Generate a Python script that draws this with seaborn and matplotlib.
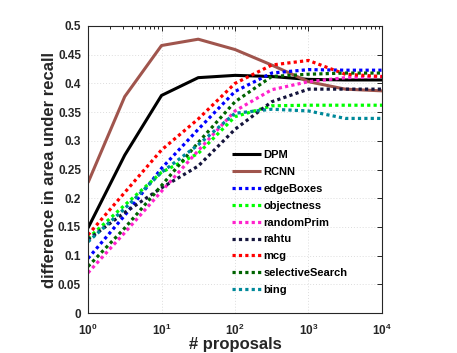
import numpy as np
import pandas as pd
import matplotlib
matplotlib.use("Agg")
import matplotlib.pyplot as plt
import seaborn as sns

# ---- data ----
proposals = [1, 3.16, 10, 31.6, 100, 316, 1000, 3162, 10000]
dpm = [0.148, 0.275, 0.379, 0.410, 0.414, 0.412, 0.407, 0.406, 0.406]
rcnn = [0.227, 0.377, 0.466, 0.477, 0.459, 0.432, 0.403, 0.390, 0.387]
edgeboxes = [0.095, 0.170, 0.252, 0.320, 0.386, 0.418, 0.424, 0.423, 0.423]
objectness = [0.130, 0.188, 0.245, 0.278, 0.342, 0.361, 0.362, 0.362, 0.362]
randomprim = [0.070, 0.140, 0.212, 0.283, 0.352, 0.389, 0.403, 0.410, 0.412]
rahtu = [0.128, 0.175, 0.218, 0.256, 0.320, 0.368, 0.390, 0.390, 0.390]
mcg = [0.136, 0.210, 0.284, 0.338, 0.400, 0.432, 0.440, 0.416, 0.412]
selectivesearch = [0.081, 0.148, 0.222, 0.297, 0.368, 0.412, 0.416, 0.418, 0.418]
bing = [0.124, 0.182, 0.245, 0.293, 0.348, 0.355, 0.352, 0.339, 0.339]

series_names = ["DPM", "RCNN", "edgeBoxes", "objectness", "randomPrim",
                "rahtu", "mcg", "selectiveSearch", "bing"]
series_values = [dpm, rcnn, edgeboxes, objectness, randomprim,
                 rahtu, mcg, selectivesearch, bing]
series_colors = ["#000000", "#A0554D", "#0000FF", "#00FF00", "#FF22CC",
                 "#14143C", "#FF0000", "#006400", "#00899A"]
series_solid = [True, True, False, False, False, False, False, False, False]

xtick_vals = [1, 10, 100, 1000, 10000]
xtick_labels = [r"$\mathbf{10^{0}}$", r"$\mathbf{10^{1}}$", r"$\mathbf{10^{2}}$",
                r"$\mathbf{10^{3}}$", r"$\mathbf{10^{4}}$"]
ytick_vals = [0, 0.05, 0.1, 0.15, 0.2, 0.25, 0.3, 0.35, 0.4, 0.45, 0.5]
ytick_labels = ["0", "0.05", "0.1", "0.15", "0.2", "0.25", "0.3", "0.35",
                "0.4", "0.45", "0.5"]

# ---- style ----
sns.set_style("white")
plt.rcParams["font.family"] = ["Liberation Sans", "DejaVu Sans"]
plt.rcParams["font.weight"] = "bold"
plt.rcParams["mathtext.fontset"] = "custom"
plt.rcParams["mathtext.bf"] = "Liberation Sans:bold"
plt.rcParams["mathtext.rm"] = "Liberation Sans:bold"
TXT = "#262626"

fig = plt.figure(figsize=(4.57, 3.53), dpi=100)
ax = fig.add_axes([88 / 457, 40 / 353, 294 / 457, 287 / 353])

for name, vals, col, solid in zip(series_names, series_values, series_colors, series_solid):
    df = pd.DataFrame({"x": proposals, "y": vals})
    if solid:
        sns.lineplot(data=df, x="x", y="y", ax=ax, color=col, lw=2.2,
                     label=name, estimator=None, solid_capstyle="butt")
    else:
        sns.lineplot(data=df, x="x", y="y", ax=ax, color=col, lw=2.3,
                     label=name, estimator=None, linestyle=(0, (1, 1)))

ax.set_xscale("log")
ax.set_xlim(1, 10000)
ax.set_ylim(0, 0.5)
ax.set_xticks(xtick_vals)
ax.set_xticklabels(xtick_labels)
ax.set_yticks(ytick_vals)
ax.set_yticklabels(ytick_labels)
ax.xaxis.set_minor_locator(matplotlib.ticker.LogLocator(base=10, subs=np.arange(2, 10)))
ax.xaxis.set_minor_formatter(matplotlib.ticker.NullFormatter())

ax.grid(True, which="major", linestyle=(0, (1, 2)), color="#DDDDDD", lw=0.7)
ax.tick_params(which="both", direction="in", top=True, right=True,
               colors=TXT, labelsize=8.5, width=0.7)
ax.tick_params(which="major", length=3.5)
ax.tick_params(which="minor", length=2)
ax.tick_params(axis="x", which="major", pad=7)
ax.tick_params(axis="y", which="major", pad=5)
for lab in ax.get_xticklabels() + ax.get_yticklabels():
    lab.set_fontweight("bold")
for sp in ax.spines.values():
    sp.set_color(TXT)
    sp.set_linewidth(0.8)

ax.set_xlabel("# proposals", fontsize=12, fontweight="bold", color=TXT, labelpad=-1)
ax.set_ylabel("difference in area under recall", fontsize=12, fontweight="bold",
              color=TXT, labelpad=1)

leg = ax.legend(loc="upper left", bbox_to_anchor=(232 / 457, 1 - 150 / 353),
                bbox_transform=fig.transFigure, frameon=False, fontsize=8,
                handlelength=2.6, handletextpad=0.25, labelspacing=0.62,
                borderpad=0, borderaxespad=0)
for t in leg.get_texts():
    t.set_fontweight("bold")
    t.set_color("#000000")

fig.savefig("out.png", dpi=100)
